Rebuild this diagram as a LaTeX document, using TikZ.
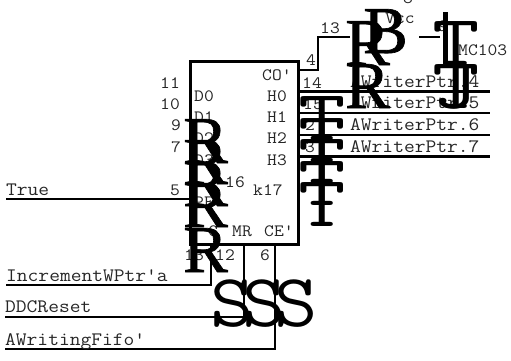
\documentclass[tikz,border=0pt]{standalone}
\usepackage{fontspec}
\newfontfamily\monof[FakeStretch=1.1]{Latin Modern Mono}
\newfontfamily\glyphT[FakeStretch=1.28]{Latin Modern Mono}
\newfontfamily\glyphS[FakeStretch=1.12]{Latin Modern Mono}
\newfontfamily\glyphR[FakeBold=1]{Liberation Serif}
\newcommand{\lbl}{\fontsize{17.3}{17.3}\selectfont\monof}
\newcommand{\wlbl}{\fontsize{19}{19}\selectfont\monof}
\tikzset{
  x=1pt,y=-1pt,
  wire/.style={line width=2.8pt,line join=miter,line cap=butt},
  chipbox/.style={draw,line width=2.8pt,minimum width=108pt,minimum height=183pt,inner sep=0pt,anchor=north west},
  pinl/.style={inner sep=0pt,anchor=base west,font=\lbl,text=black!85},
  wname/.style={inner sep=0pt,anchor=base west,font=\wlbl,text=black!85},
  glyph/.style={inner sep=0pt,anchor=base west,font=\fontsize{72}{72}\selectfont\glyphT},
  glyphs/.style={inner sep=0pt,anchor=base west,font=\fontsize{75}{75}\selectfont\glyphS},
  glyphr/.style={inner sep=0pt,anchor=base west,font=\fontsize{67}{67}\selectfont\glyphR}
}
\begin{document}
\begin{tikzpicture}
\useasboundingbox (0,0) rectangle (511,360);
\node[chipbox] (chip) at (189,60) {};
\coordinate (co) at (297,70);
\coordinate (h0) at (297,91.5);
\coordinate (h1) at (297,113);
\coordinate (h2) at (297,135);
\coordinate (h3) at (297,156.5);
\coordinate (pe) at (189,199);
\coordinate (cin) at (211,243);
\coordinate (mr) at (244,243);
\coordinate (ce) at (275,243);
\coordinate (o4) at (490,91.5);
\coordinate (o5) at (490,113);
\coordinate (o6) at (490,135);
\coordinate (o7) at (490,156.5);
\coordinate (tr) at (6,199);
\coordinate (inc) at (6,285);
\coordinate (ddc) at (5,317);
\coordinate (awf) at (5,349);
\coordinate (n13) at (350,37);
\coordinate (n9a) at (419,37);
\coordinate (n9b) at (440,37);
\draw[wire] (co) -| (318,37) -- (n13);
\draw[wire] (n9a) -- (n9b);
\draw[wire] (h0) -- (o4);
\draw[wire] (h1) -- (o5);
\draw[wire] (h2) -- (o6);
\draw[wire] (h3) -- (o7);
\draw[wire] (tr) -- (pe);
\draw[wire] (cin) |- (inc);
\draw[wire] (mr) |- (ddc);
\draw[wire] (ce) |- (awf);
\node[pinl] (t1) at (262,80) {CO'};
\node[pinl] (t2) at (267,101) {H0};
\node[pinl] (t3) at (267,122) {H1};
\node[pinl] (t4) at (267,143) {H2};
\node[pinl] (t5) at (267,165) {H3};
\node[pinl] (t6) at (194,101) {D0};
\node[pinl] (t7) at (194,122) {D1};
\node[pinl] (t8) at (194,143) {D2};
\node[pinl] (t9) at (194,165) {D3};
\node[pinl] (t10) at (194,207) {PE};
\node[pinl] (t11) at (208,236) {C};
\node[pinl] (t12) at (232,236) {MR};
\node[pinl] (t13) at (264,236) {CE'};
\node[pinl] (t14) at (253,195) {k17};
\node[pinl] (t15) at (458,55) {MC103};
\node[pinl] (t16) at (385,23) {Vcc};
\node[pinl] (n1) at (160,88) {11};
\node[pinl] (n2) at (160,109) {10};
\node[pinl] (n3) at (171,130) {9};
\node[pinl] (n4) at (171,152) {7};
\node[pinl] (n5) at (170,195) {5};
\node[pinl] (n6) at (225,187) {16};
\node[pinl] (n7) at (184,260) {13};
\node[pinl] (n8) at (215,260) {12};
\node[pinl] (n9) at (260,260) {6};
\node[pinl] (n10) at (306,65) {4};
\node[pinl] (n11) at (302,88) {14};
\node[pinl] (n12) at (303,109) {15};
\node[pinl] (n14) at (305,130) {2};
\node[pinl] (n15) at (305,152) {3};
\node[pinl] (n16) at (320,33) {13};
\node[pinl] (n17) at (403,3) {8};
\node[pinl] (n18) at (438,31) {9};
\node[wname] (w1) at (350,87) {AWriterPtr.4};
\node[wname] (w2) at (350,108) {AWriterPtr.5};
\node[wname] (w3) at (350,130) {AWriterPtr.6};
\node[wname] (w4) at (350,152) {AWriterPtr.7};
\node[wname] (w5) at (6,195) {True};
\node[wname] (w6) at (6,281) {IncrementWPtr'a};
\node[wname] (w7) at (5,312) {DDCReset};
\node[wname] (w8) at (5,345) {AWritingFifo'};
\foreach \i/\b in {1/163,2/184,3/206,4/227,5/272}{
  \node[glyphr] (rl\i) at (183,\b) {R};
}
\foreach \i/\b in {1/140,2/162,3/183,4/205,5/226}{
  \node[glyph] (tr\i) at (298,\b) {T};
}
\node[glyphs] (ss1) at (210,326) {S};
\node[glyphs] (ss2) at (242,326) {S};
\node[glyphs] (ss3) at (274,326) {S};
\node[glyphr] (bt) at (363,53) {B};
\node[glyphr] (rt1) at (345,65) {R};
\node[glyphr] (rt2) at (345,108) {R};
\node[glyph] (tt1) at (432,65) {T};
\node[glyph] (tt2) at (432,108) {T};
\node[glyph] (jt) at (432,108) {J};
\draw[line width=5pt] (445,12) -- (445,64);
\end{tikzpicture}
\end{document}
